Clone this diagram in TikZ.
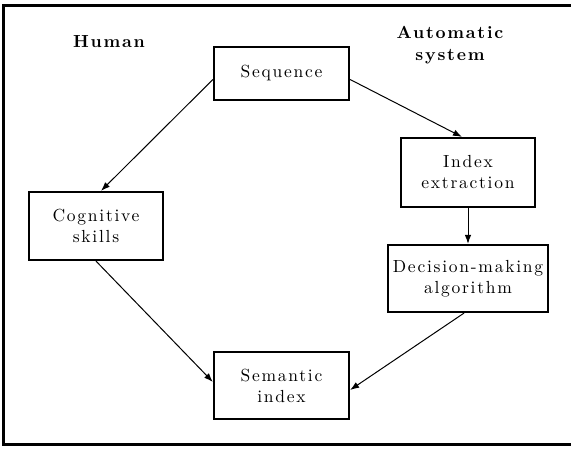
\documentclass[tikz,border=0pt]{standalone}
\usepackage{fontspec}
\usetikzlibrary{arrows.meta}
\newfontfamily\spacedrm{lmroman10-regular.otf}[LetterSpace=10, BoldFont=lmroman10-bold.otf]
\tikzset{
  txt/.style={font=\spacedrm\fontsize{17.5}{21}\selectfont, align=center, inner sep=0pt},
  boxnode/.style={txt, draw, line width=2.2pt, rectangle},
  heading/.style={font=\spacedrm\fontsize{17.5}{22}\selectfont\bfseries, align=center, inner sep=0pt},
  flow/.style={line width=1pt, -{Latex[length=9pt,width=6.5pt]}}
}
\begin{document}
\begin{tikzpicture}[x=1pt, y=-1pt]
  \useasboundingbox (0,0) rectangle (571,454);
  % outer frame (its right side runs past the page edge)
  \draw[line width=2.8pt] (576,5.8) -- (3.2,5.8) -- (3.2,444.8) -- (576,444.8);

  % column headings
  \node[heading] (hum) at (109,42) {Human};
  \node[heading] (auto) at (450,45) {Automatic\\system};

  % process boxes
  \node[boxnode, minimum width=135pt, minimum height=53pt] (seq) at (281.5,73.5) {Sequence};
  \node[boxnode, minimum width=134pt, minimum height=69pt] (idx) at (468,172.5) {Index\\extraction};
  \node[boxnode, minimum width=160pt, minimum height=67pt] (dec) at (468,278.5) {Decision-making\\algorithm};
  \node[boxnode, minimum width=134pt, minimum height=68pt] (cog) at (96,226) {Cognitive\\skills};
  \node[boxnode, minimum width=135pt, minimum height=67pt] (sem) at (281.5,385.5) {Semantic\\index};

  % connectors
  \draw[flow] ([yshift=-6pt]seq.west) -- ([xshift=5pt]cog.north);
  \draw[flow] ([yshift=-6pt]seq.east) -- ([xshift=-6pt]idx.north);
  \draw[flow] (idx.south) -- (dec.north);
  \draw[flow] (cog.south) -- ([yshift=3.5pt]sem.west);
  \draw[flow] ([xshift=-4pt]dec.south) -- ([yshift=-4.5pt]sem.east);
\end{tikzpicture}
\end{document}
